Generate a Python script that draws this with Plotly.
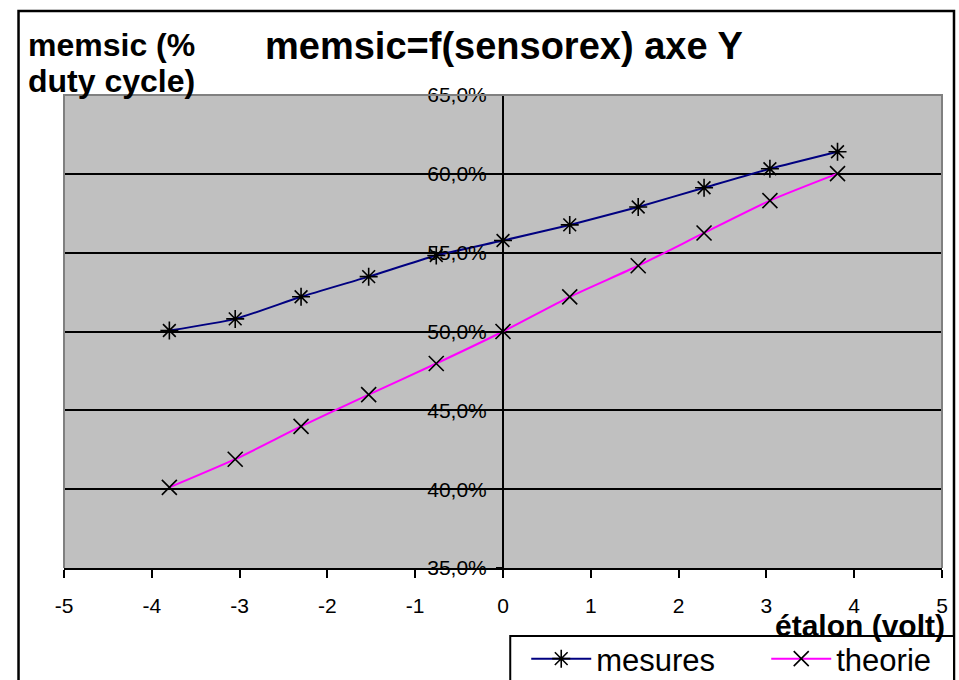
import plotly.graph_objects as go

# Data
etalon_volt = [-3.80, -3.05, -2.30, -1.53, -0.76, 0.0, 0.76, 1.54, 2.29, 3.04, 3.81]
mesures = [50.06, 50.80, 52.20, 53.48, 54.82, 55.77, 56.76, 57.90, 59.12, 60.32, 61.40]
theorie = [40.11, 41.90, 43.98, 46.00, 47.97, 50.00, 52.20, 54.17, 56.25, 58.30, 60.01]

x_ticks = [-5, -4, -3, -2, -1, 0, 1, 2, 3, 4, 5]
y_ticks = [35, 40, 45, 50, 55, 60, 65]
y_ticklabels = [f"{v:.1f}%".replace(".", ",") for v in y_ticks]

title_text = "memsic=f(sensorex) axe Y"
ytitle_lines = ["memsic (%", "duty cycle)"]
xtitle_text = "étalon (volt)"

FONT = "Liberation Sans, Arial, sans-serif"

fig = go.Figure()
fig.add_trace(go.Scatter(
    x=etalon_volt, y=mesures, name="mesures", mode="lines+markers",
    line=dict(color="#000080", width=2, shape="spline", smoothing=0.6),
    marker=dict(symbol="asterisk-open", size=15, color="black",
                line=dict(color="black", width=1.6)),
))
fig.add_trace(go.Scatter(
    x=etalon_volt, y=theorie, name="theorie", mode="lines+markers",
    line=dict(color="#FF00FF", width=2, shape="spline", smoothing=0.6),
    marker=dict(symbol="x-thin-open", size=15, color="black",
                line=dict(color="black", width=1.6)),
))

W, H = 959, 680
L, R, T, B = 63.5, 942, 95, 568
pw, ph = R - L, B - T

def px(xp):
    return (xp - L) / pw

def py(yp):
    return (B - yp) / ph

fig.update_layout(
    width=W, height=H, autosize=False,
    margin=dict(l=L, r=W - R, t=T, b=H - B, pad=0, autoexpand=False),
    paper_bgcolor="white", plot_bgcolor="#C0C0C0",
    font=dict(family=FONT, color="black", size=20),
    showlegend=True,
    legend=dict(
        orientation="h", x=px(526), y=py(632), xanchor="left", yanchor="top",
        bgcolor="rgba(0,0,0,0)", borderwidth=0,
        font=dict(size=31, family=FONT), itemwidth=60,
        entrywidth=165, entrywidthmode="pixels", tracegroupgap=0,
    ),
    xaxis=dict(
        range=[-5, 5], tickvals=x_ticks, ticktext=[str(v) for v in x_ticks],
        showgrid=False, zeroline=False, showline=True, linecolor="black", linewidth=2,
        ticks="outside", ticklen=8, tickwidth=1.5, tickcolor="black",
        tickfont=dict(size=21, family=FONT), ticklabelstandoff=10,
    ),
    yaxis=dict(
        range=[35, 65], tickvals=y_ticks, ticktext=y_ticklabels,
        anchor="free", position=0.5,
        showgrid=True, gridcolor="black", gridwidth=1.5,
        zeroline=False, showline=True, linecolor="black", linewidth=2,
        ticks="outside", ticklen=6, tickwidth=1.5, tickcolor="black",
        tickfont=dict(size=21, family=FONT), ticklabelstandoff=5,
    ),
    shapes=[
        # grey plot-area border (top, left, right)
        dict(type="path", xref="paper", yref="paper",
             path="M 0,0 L 0,1 L 1,1 L 1,0", line=dict(color="#808080", width=2), layer="above"),
        # outer chart frame
        dict(type="rect", xref="paper", yref="paper",
             x0=px(18), x1=px(954), y0=py(700), y1=py(11),
             line=dict(color="black", width=2.5), layer="above"),
        # legend box
        dict(type="rect", xref="paper", yref="paper",
             x0=px(510), x1=px(954), y0=py(700), y1=py(636),
             fillcolor="white", line=dict(color="black", width=2), layer="above"),
    ],
    annotations=[
        dict(text="<b>" + title_text + "</b>", xref="paper", yref="paper",
             x=px(504), y=py(46), xanchor="center", yanchor="middle",
             showarrow=False, font=dict(size=38, family=FONT)),
        dict(text="<b>" + ytitle_lines[0] + "</b>", xref="paper", yref="paper",
             x=px(25), y=py(45), xanchor="left", yanchor="middle",
             showarrow=False, font=dict(size=32, family=FONT)),
        dict(text="<b>" + ytitle_lines[1] + "</b>", xref="paper", yref="paper",
             x=px(25), y=py(81), xanchor="left", yanchor="middle",
             showarrow=False, font=dict(size=32, family=FONT)),
        dict(text="<b>" + xtitle_text + "</b>", xref="paper", yref="paper",
             x=px(947), y=py(625), xanchor="right", yanchor="middle",
             showarrow=False, font=dict(size=30, family=FONT)),
    ],
)

fig.write_html("out.html")
